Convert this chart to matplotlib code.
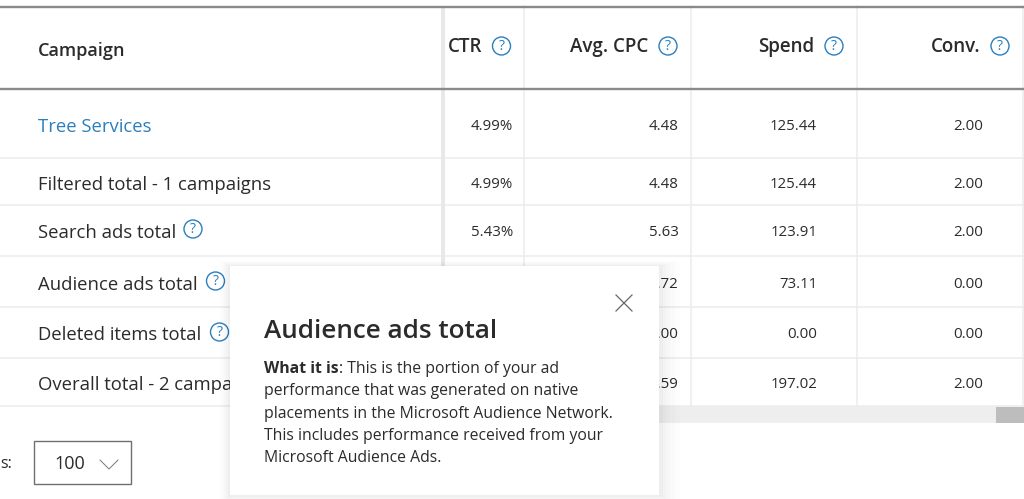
import matplotlib
matplotlib.use("Agg")
import matplotlib.pyplot as plt
from matplotlib.patches import Rectangle, Circle

plt.rcParams['font.family'] = ['Open Sans', 'Noto Sans', 'DejaVu Sans']

# table content
headers = ["CTR", "Avg. CPC", "Spend", "Conv."]
campaigns = ["Tree Services", "Filtered total - 1 campaigns", "Search ads total",
             "Audience ads total", "Deleted items total", "Overall total - 2 campaigns"]
ctr = ["4.99%", "4.99%", "5.43%", "", "", ""]
avg_cpc = ["4.48", "4.48", "5.63", "3.72", "0.00", "4.59"]
spend = ["125.44", "125.44", "123.91", "73.11", "0.00", "197.02"]
conv = ["2.00", "2.00", "2.00", "0.00", "0.00", "2.00"]
popup_title = "Audience ads total"
popup_lead = "What it is"
popup_lines = [": This is the portion of your ad",
               "performance that was generated on native",
               "placements in the Microsoft Audience Network.",
               "This includes performance received from your",
               "Microsoft Audience Ads."]

DARK = "#2b2b2b"
BLUE = "#2a7fbd"
GRID = "#ececec"
RULE = "#8a8a8a"

row_y = [125, 183, 231, 283, 334, 384]
row_lines = [157.5, 205, 256, 307, 358, 406]
col_lines = [524, 690.5, 857, 1023]
col_right = [513, 678.5, 817, 983]
head_right = [482, 648, 814, 981]
head_icons = [501.5, 668, 834, 1000]

fig = plt.figure(figsize=(10.24, 4.99), dpi=100)
ax = fig.add_axes([0, 0, 1, 1])
ax.set_xlim(0, 1024)
ax.set_ylim(499, 0)
ax.axis('off')


def help_icon(x, y, z=3):
    ax.add_patch(Circle((x, y), 9, fc='white', ec=BLUE, lw=1.0, zorder=z))
    ax.text(x, y + 0.5, "?", color=BLUE, fontsize=10, ha='center', va='center', zorder=z + 0.1)


# grid lines
for y in row_lines:
    ax.plot([0, 1024], [y, y], color=GRID, lw=1.1, zorder=1)
for x in col_lines:
    ax.plot([x, x], [6, 406], color=GRID, lw=1.1, zorder=1)

# frozen column shadow
ax.add_patch(Rectangle((441, 6), 4, 400, fc='#e8e8e8', ec='none', zorder=1.5))

# header rules
ax.plot([0, 1024], [6.5, 6.5], color=RULE, lw=1.7, zorder=2, solid_capstyle='butt')
ax.plot([0, 1024], [89, 89], color=RULE, lw=1.7, zorder=2, solid_capstyle='butt')

# scroll bar
ax.add_patch(Rectangle((442, 406), 582, 17, fc='#eeeeee', ec='none', zorder=1))
ax.add_patch(Rectangle((996, 407), 28, 16, fc='#bdbdbd', ec='none', zorder=1.2))

# header
ax.text(38, 50.5, "Campaign", color=DARK, fontsize=13, fontweight='semibold', va='center')
for name, x, ix in zip(headers, head_right, head_icons):
    ax.text(x, 46.5, name, color=DARK, fontsize=13.5, fontweight='semibold', ha='right', va='center')
    help_icon(ix, 46)

# rows
for i, name in enumerate(campaigns):
    ax.text(38, row_y[i] + 1.5, name, color=BLUE if i == 0 else DARK, fontsize=13.3, va='center', zorder=3)
help_icon(193, 229)
help_icon(215.5, 281)
help_icon(219.5, 332)

for col, x in zip([ctr, avg_cpc, spend, conv], col_right):
    for i, val in enumerate(col):
        ax.text(x, row_y[i] + 1, val, color=DARK, fontsize=10.8, ha='right', va='center', zorder=3)

# page size selector
ax.text(0, 464, "s:", color=DARK, fontsize=11.5, va='center')
ax.add_patch(Rectangle((34, 441), 96.5, 43, fc='white', ec='#6f6f6f', lw=1.0, zorder=2))
ax.text(54, 464, "100", color=DARK, fontsize=13, va='center', zorder=3)
ax.plot([100, 109, 118], [460, 469, 460], color='#777777', lw=0.7, zorder=3)

# popup shadow, then popup
for grow, alpha in zip([26, 20, 14, 9, 5], [0.008, 0.01, 0.012, 0.015, 0.018]):
    ax.add_patch(Rectangle((230 - grow * 0.4, 266 - grow * 0.2), 429 + grow * 1.2, 229 + grow * 0.6,
                           fc='black', ec='none', alpha=alpha, zorder=4))
ax.add_patch(Rectangle((230, 266), 429, 229, fc='white', ec='none', zorder=5))
ax.plot([616, 632], [295, 311], color='#666666', lw=0.9, zorder=6)
ax.plot([616, 632], [311, 295], color='#666666', lw=0.9, zorder=6)

ax.text(264, 331, popup_title, color=DARK, fontsize=18.8, fontweight='semibold', va='center', zorder=6)

line_y = [369, 391, 414, 436, 458]
lead = ax.text(264, line_y[0], popup_lead, color=DARK, fontsize=11.3, fontweight='bold', va='center', zorder=6)
fig.canvas.draw()
lead_end = lead.get_window_extent().x1
ax.text(lead_end, line_y[0], popup_lines[0], color=DARK, fontsize=11.3, va='center', zorder=6)
for y, line in zip(line_y[1:], popup_lines[1:]):
    ax.text(264, y, line, color=DARK, fontsize=11.3, va='center', zorder=6)

fig.savefig("out.png", dpi=100)
